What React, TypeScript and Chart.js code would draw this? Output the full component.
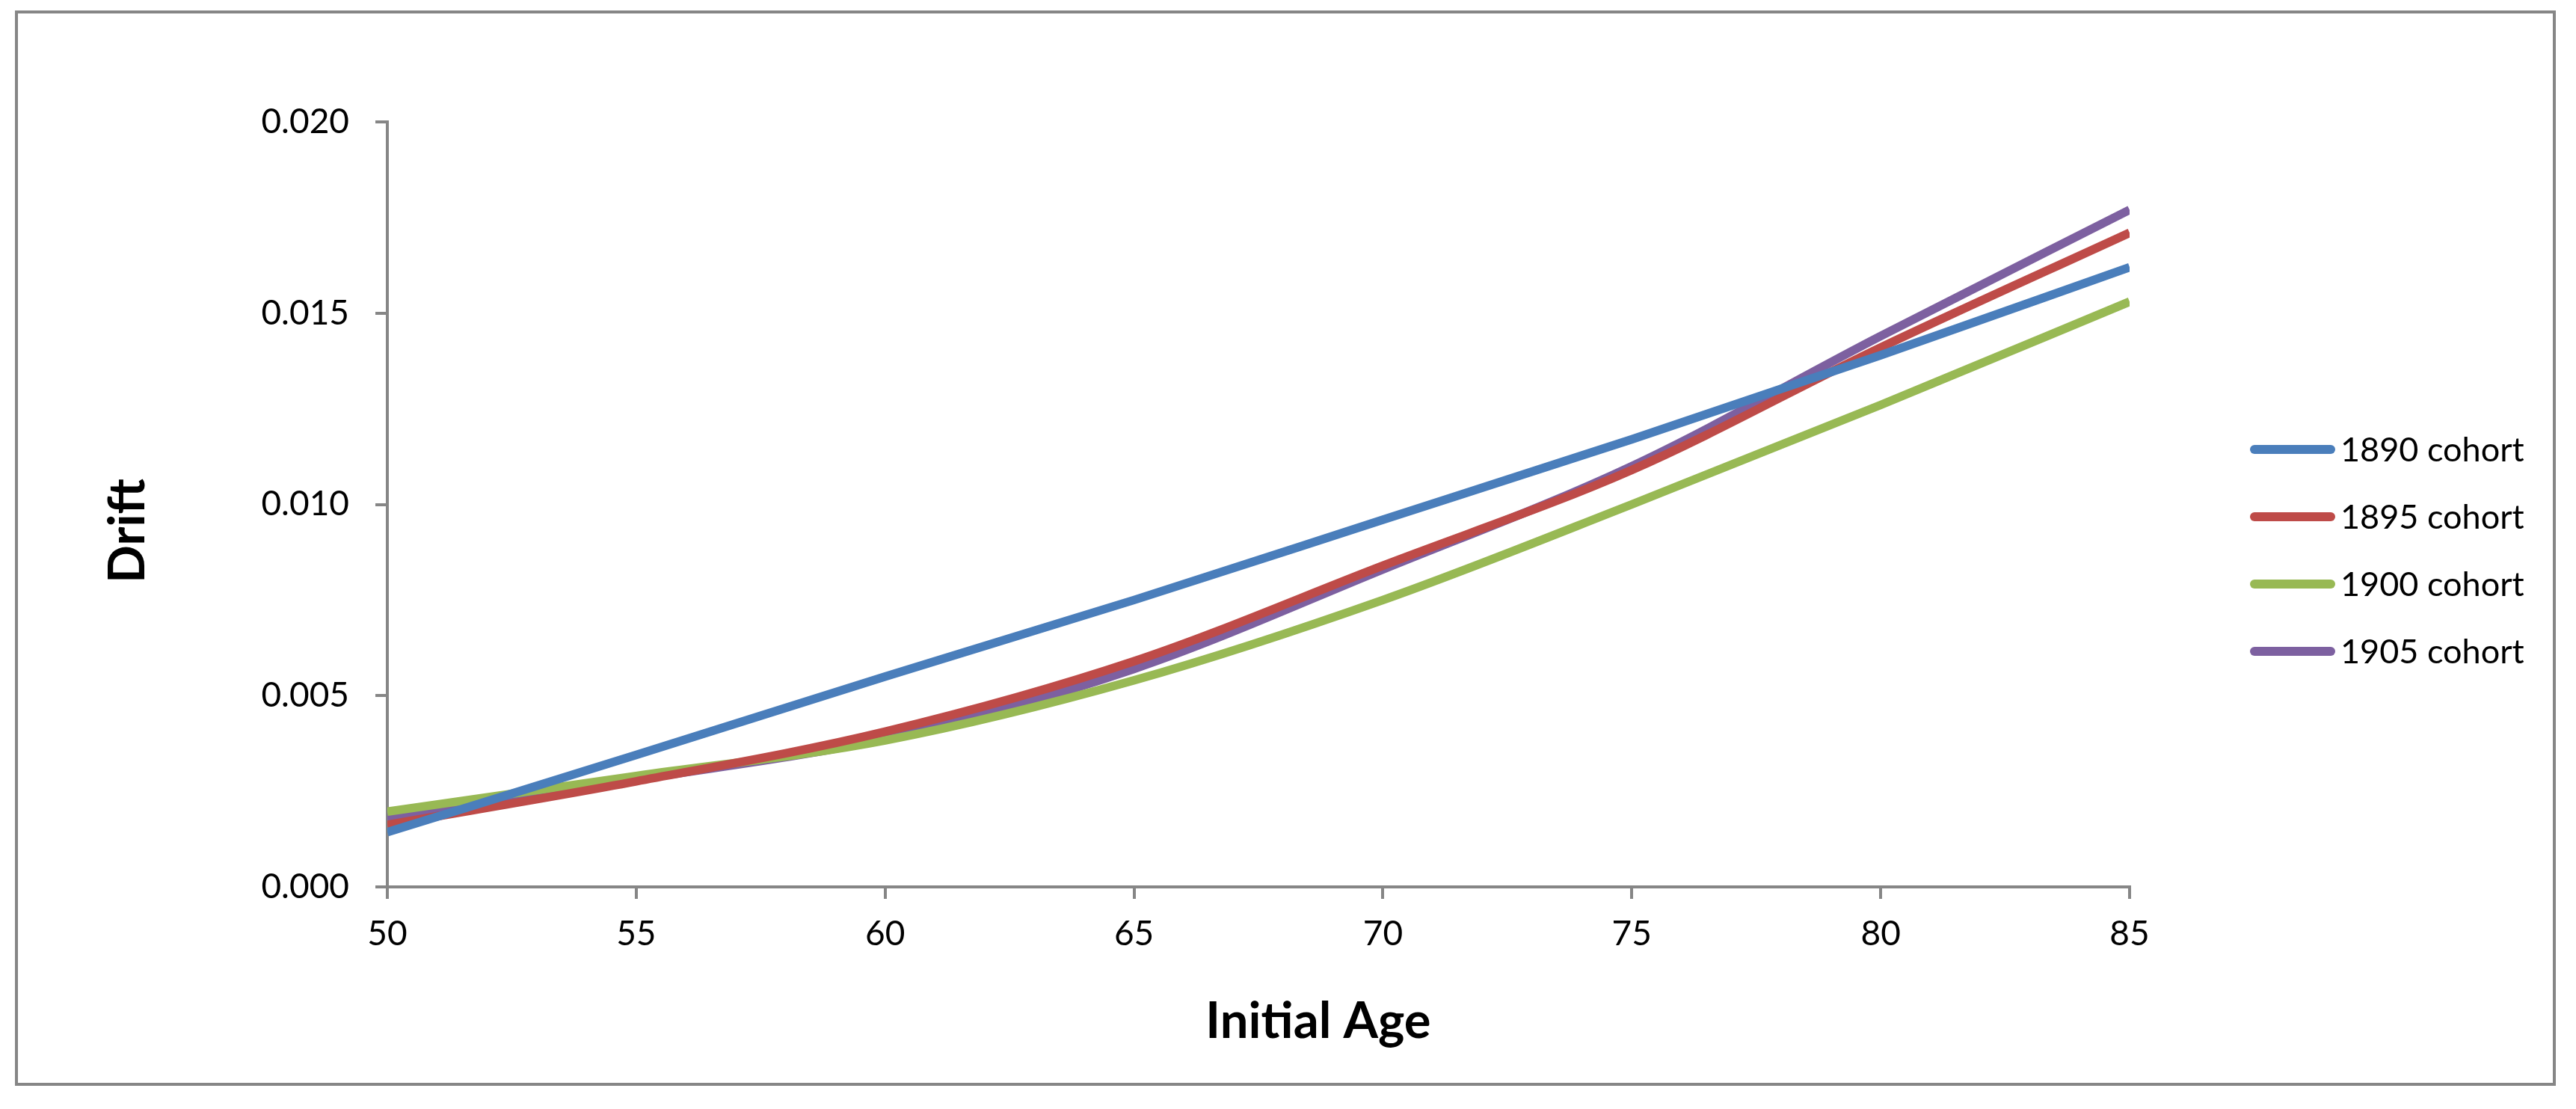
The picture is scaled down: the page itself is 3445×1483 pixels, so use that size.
import React, { useEffect, useRef } from "react";
import { Chart, registerables } from "chart.js";

Chart.register(...registerables);

const ages = [50, 55, 60, 65, 70, 75, 80, 85];
const seriesNames = ["1890 cohort", "1895 cohort", "1900 cohort", "1905 cohort"];
const cohort1890 = [0.00143, 0.00345, 0.0055, 0.0075, 0.0096, 0.0117, 0.0139, 0.0162];
const cohort1895 = [0.00162, 0.00276, 0.00406, 0.0059, 0.0084, 0.0109, 0.0141, 0.0171];
const cohort1900 = [0.00197, 0.0029, 0.00383, 0.0054, 0.0075, 0.01, 0.0126, 0.0153];
const cohort1905 = [0.00179, 0.0028, 0.00388, 0.0057, 0.0083, 0.011, 0.0144, 0.0177];
const seriesColors = ["#4A7EBB", "#BE4B48", "#98B954", "#7D60A0"];
const xTitle = "Initial Age";
const yTitle = "Drift";
const yTickStep = 0.005;
const xTickStep = 5;

const W = 3445;
const H = 1483;
const AXIS = "#868686";
const FONT = "Lato, 'Open Sans', sans-serif";

const legendPlugin = {
  id: "customLegend",
  afterDraw(chart: any) {
    const ctx = chart.ctx;
    const x0 = 3009;
    const x1 = 3123;
    const y0 = 601;
    const dy = 90;
    ctx.save();
    chart.data.datasets.forEach((ds: any, i: number) => {
      const y = y0 + i * dy;
      ctx.beginPath();
      ctx.strokeStyle = ds.borderColor;
      ctx.lineWidth = 12;
      ctx.lineCap = "round";
      ctx.moveTo(x0 + 6, y);
      ctx.lineTo(x1 - 6, y);
      ctx.stroke();
      ctx.fillStyle = "#000";
      ctx.font = `45px ${FONT}`;
      ctx.textAlign = "left";
      ctx.textBaseline = "middle";
      ctx.fillText(ds.label, 3130, y + 1);
    });
    ctx.restore();
  },
};

const axisTitlePlugin = {
  id: "axisTitles",
  afterDraw(chart: any) {
    const ctx = chart.ctx;
    ctx.save();
    ctx.fillStyle = "#000";
    ctx.font = `bold 67px ${FONT}`;
    ctx.textAlign = "center";
    ctx.textBaseline = "middle";
    ctx.fillText(xTitle, 1763, 1366);
    ctx.translate(171, 710);
    ctx.rotate(-Math.PI / 2);
    ctx.fillText(yTitle, 0, 0);
    ctx.restore();
  },
};

export default function App() {
  const ref = useRef<HTMLCanvasElement | null>(null);

  useEffect(() => {
    if (!ref.current) return;
    const datasets = [cohort1890, cohort1895, cohort1900, cohort1905].map((vals, i) => ({
      label: seriesNames[i],
      data: ages.map((a, j) => ({ x: a, y: vals[j] })),
      borderColor: seriesColors[i],
      backgroundColor: seriesColors[i],
      borderWidth: 11.5,
      borderCapStyle: "butt" as const,
      pointRadius: 0,
      pointHoverRadius: 0,
      cubicInterpolationMode: "monotone" as const,
      fill: false,
    }));

    const chart = new Chart(ref.current, {
      type: "line",
      data: { datasets },
      plugins: [legendPlugin, axisTitlePlugin],
      options: {
        animation: false,
        responsive: false,
        devicePixelRatio: 1,
        layout: { padding: { top: 163, right: 597, bottom: 0, left: 0 } },
        plugins: {
          legend: { display: false },
          tooltip: { enabled: false },
        },
        scales: {
          x: {
            type: "linear",
            min: 50,
            max: 85,
            afterFit(scale: any) {
              scale.height = H - 1186;
            },
            ticks: {
              stepSize: xTickStep,
              color: "#000",
              font: { family: FONT, size: 46 },
              padding: 20,
              maxRotation: 0,
            },
            grid: {
              display: true,
              drawOnChartArea: false,
              drawTicks: true,
              tickLength: 16,
              color: AXIS,
              lineWidth: 4,
            },
            border: { display: true, color: AXIS, width: 4 },
            title: { display: false, text: xTitle },
          },
          y: {
            type: "linear",
            min: 0,
            max: 0.02,
            afterFit(scale: any) {
              scale.width = 518;
            },
            ticks: {
              stepSize: yTickStep,
              color: "#000",
              font: { family: FONT, size: 46 },
              padding: 35,
              callback: (v: any) => Number(v).toFixed(3),
            },
            grid: {
              display: true,
              drawOnChartArea: false,
              drawTicks: true,
              tickLength: 16,
              color: AXIS,
              lineWidth: 4,
            },
            border: { display: true, color: AXIS, width: 4 },
            title: { display: false, text: yTitle },
          },
        },
      },
    });
    return () => chart.destroy();
  }, []);

  return (
    <div style={{ position: "fixed", left: 0, top: 0, width: W, height: H, background: "#fff" }}>
      <canvas ref={ref} width={W} height={H} style={{ position: "absolute", left: 0, top: 0, width: W, height: H }} />
      <div
        style={{
          position: "absolute",
          left: 20,
          top: 14,
          width: 3398,
          height: 1438,
          border: `4px solid ${AXIS}`,
          boxSizing: "border-box",
          pointerEvents: "none",
        }}
      />
    </div>
  );
}
